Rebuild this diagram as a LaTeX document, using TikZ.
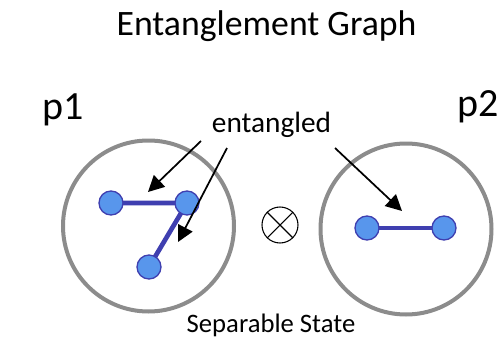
\documentclass[tikz,border=0pt]{standalone}
\usepackage{fontspec}
\setmainfont{Carlito}
\usetikzlibrary{arrows.meta}
\definecolor{ringgray}{HTML}{8C8C8C}
\definecolor{qfill}{HTML}{5896EC}
\definecolor{qedge}{HTML}{3F3FB0}
\begin{document}
\begin{tikzpicture}[x=0.75pt,y=-0.75pt,
  label text/.style={anchor=base,inner sep=0pt},
  ring/.style={circle,draw=ringgray,line width=3pt,minimum size=171*0.75pt,inner sep=0pt},
  qubit/.style={circle,fill=qfill,draw=qedge,line width=1pt,minimum size=24*0.75pt,inner sep=0pt},
  bond/.style={qedge,line width=3.5pt},
  pointer/.style={-{Triangle[length=12pt,width=12pt]},line width=1.3pt}]
\useasboundingbox (0,0) rectangle (500,339);
% titles and labels
\node[label text] (title) at (266.5,35) {\fontsize{26.8}{30}\selectfont Entanglement Graph};
\node[label text] (p1) at (63,119) {\fontsize{30}{34}\selectfont p1};
\node[label text] (p2) at (478,116) {\fontsize{30}{34}\selectfont p2};
\node[label text] (ent) at (271.5,132) {\fontsize{22}{26}\selectfont entangled};
\node[label text] (sep) at (271,332) {\fontsize{20}{24}\selectfont Separable State};
% the two subsystems
\node[ring] (left) at (148.5,226) {};
\node[ring] (right) at (406,229) {};
% tensor product sign
\node[circle,draw,line width=0.8pt,minimum size=36*0.75pt,inner sep=0pt] (otimes) at (280,225) {};
\draw[line width=0.8pt] (otimes.45) -- (otimes.225) (otimes.135) -- (otimes.315);
% qubits in the first subsystem
\coordinate (a) at (111,203);
\coordinate (b) at (187,203);
\coordinate (c) at (149,267);
\draw[bond] (a) -- (b) (b) -- (c);
\node[qubit] (qa) at (a) {};
\node[qubit] (qb) at (b) {};
\node[qubit] (qc) at (c) {};
% qubits in the second subsystem
\coordinate (d) at (367,228);
\coordinate (e) at (444,228);
\draw[bond] (d) -- (e);
\node[qubit] (qd) at (d) {};
\node[qubit] (qe) at (e) {};
% pointers from the label to the bonds
\coordinate (s1) at (201,141);
\coordinate (t1) at (148,192);
\coordinate (s2) at (227,148);
\coordinate (t2) at (178,242);
\coordinate (s3) at (335,148);
\coordinate (t3) at (402,211);
\draw[pointer] (s1) -- (t1);
\draw[pointer] (s2) -- (t2);
\draw[pointer] (s3) -- (t3);
\end{tikzpicture}
\end{document}
